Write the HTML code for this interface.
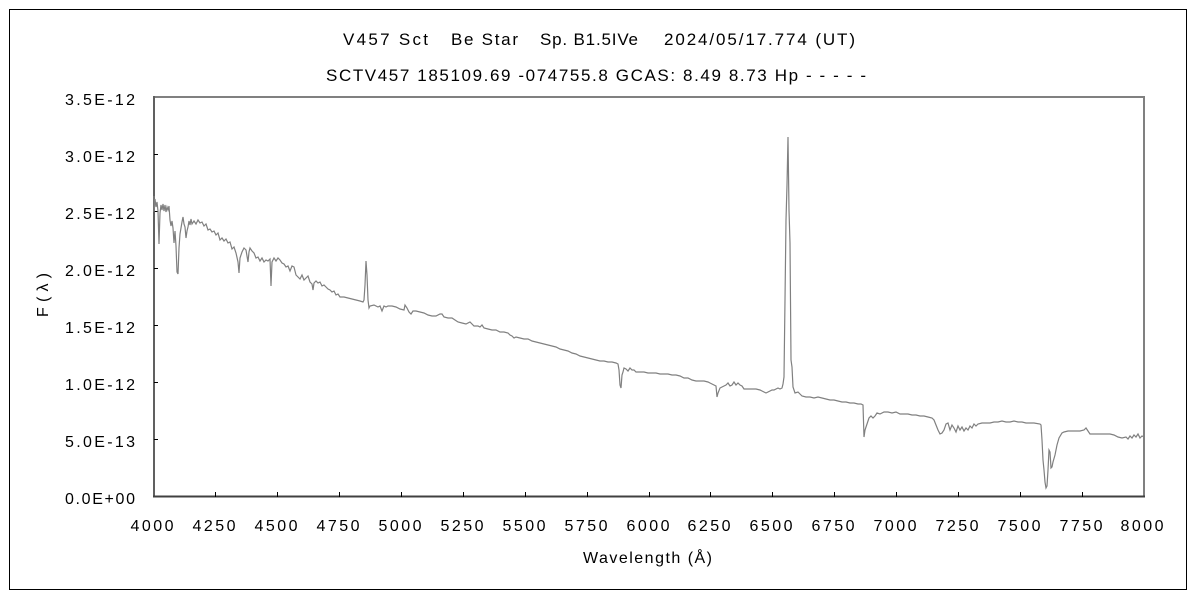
<!DOCTYPE html>
<html>
<head>
<meta charset="utf-8">
<style>
html,body{margin:0;padding:0;background:#fff;}
svg{display:block;}
text{font-family:"Liberation Sans","Noto Sans CJK JP",sans-serif;fill:#000;}
</style>
</head>
<body>
<svg width="1200" height="600" viewBox="0 0 1200 600" xmlns="http://www.w3.org/2000/svg">
<rect x="0" y="0" width="1200" height="600" fill="#fff"/>
<rect x="9.5" y="9.5" width="1177" height="580" fill="none" stroke="#000" stroke-width="1"/>

<!-- titles -->
<text x="343" y="45" font-size="17" textLength="85" lengthAdjust="spacing">V457 Sct</text>
<text x="451" y="45" font-size="17" textLength="67" lengthAdjust="spacing">Be Star</text>
<text x="540" y="45" font-size="17" textLength="98" lengthAdjust="spacing">Sp. B1.5IVe</text>
<text x="664" y="45" font-size="17" textLength="191" lengthAdjust="spacing">2024/05/17.774 (UT)</text>
<text x="326" y="81" font-size="17" textLength="540" lengthAdjust="spacing">SCTV457 185109.69 -074755.8 GCAS: 8.49 8.73 Hp - - - - -</text>

<!-- plot frame -->
<line x1="154" y1="97" x2="1144" y2="97" stroke="#808080" stroke-width="2"/>
<line x1="1144" y1="96" x2="1144" y2="497" stroke="#808080" stroke-width="2"/>
<line x1="154" y1="96" x2="154" y2="497" stroke="#606060" stroke-width="2"/>
<line x1="153" y1="496.5" x2="1145" y2="496.5" stroke="#404040" stroke-width="2"/>

<!-- y ticks -->
<g stroke="#000" stroke-width="1">
<line x1="154" y1="154.5" x2="158" y2="154.5"/>
<line x1="154" y1="211.5" x2="158" y2="211.5"/>
<line x1="154" y1="268.5" x2="158" y2="268.5"/>
<line x1="154" y1="325.5" x2="158" y2="325.5"/>
<line x1="154" y1="382.5" x2="158" y2="382.5"/>
<line x1="154" y1="439.5" x2="158" y2="439.5"/>
</g>
<!-- x ticks -->
<g stroke="#000" stroke-width="1">
<line x1="215.5" y1="492" x2="215.5" y2="497"/>
<line x1="277.5" y1="492" x2="277.5" y2="497"/>
<line x1="339.5" y1="492" x2="339.5" y2="497"/>
<line x1="401.5" y1="492" x2="401.5" y2="497"/>
<line x1="463.5" y1="492" x2="463.5" y2="497"/>
<line x1="525.5" y1="492" x2="525.5" y2="497"/>
<line x1="587.5" y1="492" x2="587.5" y2="497"/>
<line x1="649.5" y1="492" x2="649.5" y2="497"/>
<line x1="710.5" y1="492" x2="710.5" y2="497"/>
<line x1="772.5" y1="492" x2="772.5" y2="497"/>
<line x1="834.5" y1="492" x2="834.5" y2="497"/>
<line x1="896.5" y1="492" x2="896.5" y2="497"/>
<line x1="958.5" y1="492" x2="958.5" y2="497"/>
<line x1="1020.5" y1="492" x2="1020.5" y2="497"/>
<line x1="1082.5" y1="492" x2="1082.5" y2="497"/>
</g>

<!-- y labels -->
<g font-size="16" text-anchor="end">
<text x="135" y="105" textLength="70" lengthAdjust="spacing">3.5E-12</text>
<text x="135" y="162" textLength="70" lengthAdjust="spacing">3.0E-12</text>
<text x="135" y="219" textLength="70" lengthAdjust="spacing">2.5E-12</text>
<text x="135" y="276" textLength="70" lengthAdjust="spacing">2.0E-12</text>
<text x="135" y="333" textLength="70" lengthAdjust="spacing">1.5E-12</text>
<text x="135" y="390" textLength="70" lengthAdjust="spacing">1.0E-12</text>
<text x="135" y="447" textLength="70" lengthAdjust="spacing">5.0E-13</text>
<text x="135" y="504" textLength="70" lengthAdjust="spacing">0.0E+00</text>
</g>

<!-- x labels -->
<g font-size="16" text-anchor="middle">
<text x="152" y="531" textLength="43" lengthAdjust="spacing">4000</text>
<text x="214" y="531" textLength="43" lengthAdjust="spacing">4250</text>
<text x="276" y="531" textLength="43" lengthAdjust="spacing">4500</text>
<text x="338" y="531" textLength="43" lengthAdjust="spacing">4750</text>
<text x="400" y="531" textLength="43" lengthAdjust="spacing">5000</text>
<text x="462" y="531" textLength="43" lengthAdjust="spacing">5250</text>
<text x="524" y="531" textLength="43" lengthAdjust="spacing">5500</text>
<text x="586" y="531" textLength="43" lengthAdjust="spacing">5750</text>
<text x="648" y="531" textLength="43" lengthAdjust="spacing">6000</text>
<text x="709" y="531" textLength="43" lengthAdjust="spacing">6250</text>
<text x="771" y="531" textLength="43" lengthAdjust="spacing">6500</text>
<text x="833" y="531" textLength="43" lengthAdjust="spacing">6750</text>
<text x="895" y="531" textLength="43" lengthAdjust="spacing">7000</text>
<text x="957" y="531" textLength="43" lengthAdjust="spacing">7250</text>
<text x="1019" y="531" textLength="43" lengthAdjust="spacing">7500</text>
<text x="1081" y="531" textLength="43" lengthAdjust="spacing">7750</text>
<text x="1142" y="531" textLength="43" lengthAdjust="spacing">8000</text>
</g>

<text x="583" y="563" font-size="16" textLength="129" lengthAdjust="spacing">Wavelength (Å)</text>
<text transform="translate(48,295) rotate(-90)" font-size="16" text-anchor="middle" textLength="44" lengthAdjust="spacing">F(λ)</text>

<!-- spectrum -->
<polyline fill="none" stroke="#808080" stroke-width="1.2" stroke-linejoin="miter" points="
154,196 154,212 155,199 156,207 157,202 158,211 159,244 160,213 161,205 162,210 163,204 164,211 165,205 166,212 167,207 168,210 169,206 170,220 171,226 172,221 173,228 174,243 175,231 176,246 177,272 178,274 179,248 180,234 181,228 182,222 183,217 184,224 185,227 186,238 187,231 188,227 189,221 190,225 191,219 192,224 194,221 196,224 198,220 200,223 202,222 204,226 206,224 208,230 210,229 212,232 214,231 216,235 218,233 220,240 222,238 224,241 226,239 228,243 230,242 232,249 234,247 236,253 238,262 239,273 240,258 242,252 244,248 246,250 248,262 249,252 250,248 252,251 254,253 256,258 258,257 260,261 262,258 264,262 266,260 268,261 270,259 271,286 272,262 274,258 276,261 278,258 280,260 282,263 284,264 286,267 288,266 290,271 292,266 294,267 296,275 298,277 300,279 302,275 304,280 306,278 308,276 310,282 312,284 313,290 314,283 316,281 318,283 320,282 322,286 324,285 326,287 328,289 330,290 332,292 334,291 336,295 338,294 340,297 344,297 348,298 352,299 356,300 360,301 363,302 364,300 365,285 366,261 367,275 368,300 369,308 370,306 374,305 378,307 380,306 382,311 384,306 386,307 388,306 392,306 396,307 400,309 404,310 405,305 407,308 409,312 411,314 413,311 416,311 420,312 424,313 428,315 432,316 436,316 440,314 442,314 444,317 448,318 452,318 455,320 458,322 462,323 466,324 470,322 474,326 478,326 480,327 482,325 484,328 488,329 492,330 496,330 500,332 504,332 508,333 510,335 512,336 514,338 516,337 520,338 524,339 528,339 532,341 536,342 540,343 544,344 548,345 552,346 556,347 560,349 564,350 568,351 572,353 576,354 580,356 584,357 588,358 592,359 596,360 600,361 604,361 608,362 612,362 616,363 618,364 619,370 620,385 621,388 622,375 623,372 624,368 626,369 628,371 630,368 632,370 634,370 636,372 640,372 644,372 648,373 652,373 656,373 660,374 664,374 668,374 672,375 676,375 680,376 684,378 688,378 692,380 696,381 700,381 704,381 708,382 710,383 712,384 714,385 716,386 717,397 718,393 720,388 722,387 724,386 726,385 728,383 730,386 732,385 734,382 736,385 738,383 740,385 742,386 744,389 748,389 752,389 756,389 760,390 764,392 766,393 768,392 770,391 772,390 774,390 776,389 778,388 780,389 782,388 783,384 784,377 785,300 786,220 787,185 788,137 789,210 790,243 791,360 792,367 793,387 795,393 798,392 800,394 802,396 806,397 810,397 814,398 818,397 822,398 826,399 830,400 834,400 838,401 842,402 846,402 850,403 854,403 858,404 861,404 863,405 864,437 865,430 867,424 869,418 871,416 873,418 875,416 877,413 880,414 884,412 888,412 892,413 896,412 900,414 904,414 908,414 912,415 916,415 920,416 924,416 928,417 932,418 934,420 936,425 938,430 940,434 942,433 944,430 946,424 948,423 950,430 952,425 954,428 956,432 958,426 960,430 962,427 964,431 966,428 968,430 970,426 972,428 974,424 976,426 978,424 982,423 986,423 990,423 994,422 998,422 1002,421 1006,422 1010,422 1014,421 1018,422 1022,422 1026,423 1030,423 1034,423 1040,424 1041,425 1042,440 1043,460 1044,470 1045,482 1046,488 1047,486 1048,470 1049,450 1050,452 1051,468 1052,467 1053,462 1055,455 1057,445 1059,438 1062,433 1064,432 1068,431 1072,431 1076,431 1080,431 1084,430 1086,428 1088,431 1090,434 1094,434 1098,434 1102,434 1106,434 1110,434 1114,435 1118,437 1122,438 1126,437 1128,439 1130,436 1132,438 1134,435 1136,437 1138,434 1140,438 1142,436 1144,437"/>
</svg>
</body>
</html>
